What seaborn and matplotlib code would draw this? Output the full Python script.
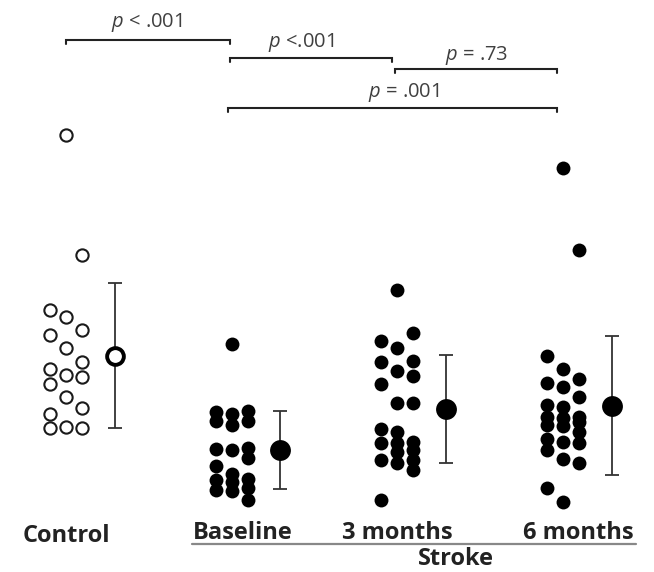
import numpy as np
import pandas as pd
import seaborn as sns
import matplotlib
matplotlib.use('Agg')
import matplotlib.pyplot as plt

# Values (arbitrary units, no axis in the original)
groups = ['Control', 'Baseline', '3 months', '6 months']

control = [38.5, 26.5, 21.0, 20.3, 19.0, 18.5, 17.2, 15.8, 15.1, 14.3, 14.5, 13.6,
           12.3, 11.2, 10.6, 9.2, 9.2, 9.3]
baseline = [17.6, 10.8, 9.5, 7.0, 4.6, 3.8, 2.9, 10.6, 9.9, 7.1, 6.2, 4.0, 3.0, 2.0,
            10.9, 9.9, 7.2, 5.4, 4.1, 3.2]
months3 = [23.0, 2.0, 17.9, 15.8, 13.6, 8.8, 7.7, 6.8, 6.0, 5.0, 17.2, 14.9, 11.7, 7.7,
           6.0, 18.7, 15.9, 14.4, 11.7, 9.1, 7.8, 7.0, 5.7]
months6 = [35.2, 27.0, 16.4, 13.7, 11.5, 10.3, 9.8, 8.1, 7.0, 3.2, 15.1, 13.3, 11.3,
           10.2, 9.5, 7.8, 6.1, 1.8, 14.1, 12.3, 10.3, 9.4, 8.8, 7.7, 5.7]

# comparisons: (group a, group b, label)
comparisons = [('Control', 'Baseline', '$p$ < .001'),
               ('Baseline', '3 months', '$p$ <.001'),
               ('3 months', '6 months', '$p$ = .73'),
               ('Baseline', '6 months', '$p$ = .001')]

sns.set_style('white')
plt.rcParams['font.family'] = ['Open Sans', 'DejaVu Sans']
plt.rcParams['mathtext.fontset'] = 'custom'
plt.rcParams['mathtext.it'] = 'Open Sans:italic'
plt.rcParams['mathtext.rm'] = 'Open Sans'

COL_STEP = 0.0966   # spacing of the dot columns (group units)
MEAN_OFF = 0.293    # mean marker sits right of the dots


def column_of(values, n_cols=3):
    # simple column dot-plot layout: put each point where it has most room
    values = np.asarray(values)
    placed = {c: [] for c in range(n_cols)}
    cols = np.zeros(len(values), int)
    for i in np.argsort(-values, kind='stable'):
        v = values[i]
        best = max([1, 2, 0], key=lambda c: min((abs(v - p) for p in placed[c]), default=np.inf))
        placed[best].append(v)
        cols[i] = best
    return cols


rows = []
for gi, (name, vals) in enumerate(zip(groups, [control, baseline, months3, months6])):
    cols = column_of(vals)
    for v, c in zip(vals, cols):
        rows.append({'group': name, 'gi': gi, 'value': v, 'xpos': gi + (c - 1) * COL_STEP})
df = pd.DataFrame(rows)

fig = plt.figure(figsize=(6.54, 5.72), dpi=100)
ax = fig.add_axes([0, 0, 1, 1])
ax.set_xlim(-0.398, 3.548)
ax.set_ylim(-5.2, 52)
ax.axis('off')

# raw points
ctrl = df[df['group'] == 'Control']
strk = df[df['group'] != 'Control']
sns.scatterplot(data=ctrl, x='xpos', y='value', ax=ax, s=78, marker='o',
                facecolor='white', edgecolor='#1a1a1a', linewidth=1.5, zorder=3)
sns.scatterplot(data=strk, x='xpos', y='value', ax=ax, s=100, marker='o',
                color='black', edgecolor='black', linewidth=0, zorder=3)

# mean +/- SD
summary = df.groupby(['gi', 'group'], sort=True)['value'].agg(['mean', 'std']).reset_index()
for _, r in summary.iterrows():
    is_ctrl = r['group'] == 'Control'
    ax.errorbar(r['gi'] + MEAN_OFF, r['mean'], yerr=r['std'], fmt='none',
                ecolor='#333333', elinewidth=1.3, capsize=4.9, capthick=1.3, zorder=2)
    if is_ctrl:
        ax.scatter(r['gi'] + MEAN_OFF, r['mean'], s=145, facecolor='white',
                   edgecolor='black', linewidth=2.8, zorder=4)
    else:
        ax.scatter(r['gi'] + MEAN_OFF, r['mean'], s=225, color='black', linewidth=0, zorder=4)

# significance brackets
bracket_y = [48.0, 46.2, 45.1, 41.2]
label_y = [49.8, 47.8, 46.5, 42.8]
x_trim = [(0.0, 0.99), (0.99, 1.967), (1.986, 2.963), (0.978, 2.963)]
label_x = [0.49, 1.42, 2.48, 2.04]
for (a, b, lab), by, ly, lx, (xa, xb) in zip(comparisons, bracket_y, label_y, label_x, x_trim):
    ax.plot([xa, xa, xb, xb], [by - 0.4, by, by, by - 0.4], color='#222222', lw=1.5,
            solid_joinstyle='miter')
    ax.text(lx, ly, lab, ha='center', va='center', fontsize=14.5, color='#404040')

# group labels
label_dx = [0.0, 0.066, 0.0, 0.09]
label_yy = [-1.6, -1.3, -1.3, -1.3]
for gi, (name, dx, yy) in enumerate(zip(groups, label_dx, label_yy)):
    ax.text(gi + dx, yy, name, ha='center', va='center', fontsize=17,
            fontweight='bold', color='#222222')
ax.plot([0.76, 3.44], [-2.4, -2.4], color='#888888', lw=1.6)
ax.text(2.35, -3.9, 'Stroke', ha='center', va='center', fontsize=17,
        fontweight='bold', color='#222222')

plt.savefig('out.png', dpi=100)
